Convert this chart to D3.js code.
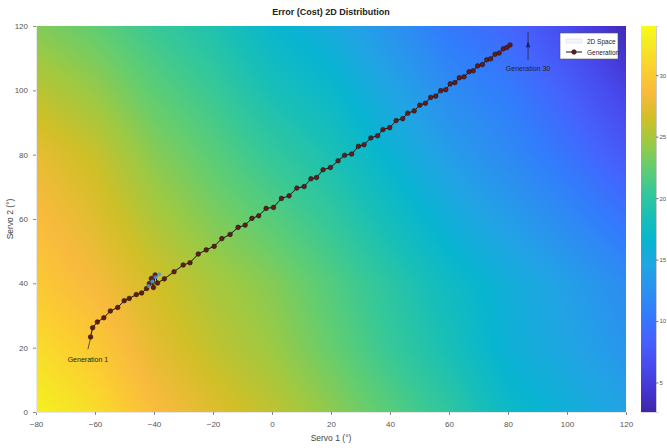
<!DOCTYPE html>
<html>
<head>
<meta charset="utf-8">
<script src="https://cdn.jsdelivr.net/npm/d3@7"></script>
<style>
  body { margin: 0; background: #fff; }
  text { font-family: "Liberation Sans", Arial, sans-serif; }
</style>
</head>
<body>
<div id="chart"></div>
<script>
// cost surface at every 20 deg (rows are Servo 2 = 0..120)
var gridX = [-80, -60, -40, -20, 0, 20, 40, 60, 80, 100, 120];
var gridY = [0, 20, 40, 60, 80, 100, 120];
var cost0   = [33.1, 31.6, 28.8, 27.2, 25.8, 24.0, 22.0, 20.0, 17.3, 15.8, 14.3];
var cost20  = [31.5, 29.9, 27.5, 25.9, 24.5, 22.6, 20.5, 18.5, 16.0, 14.6, 13.0];
var cost40  = [29.9, 28.4, 26.6, 25.0, 23.7, 21.8, 19.8, 17.6, 15.7, 14.0, 12.1];
var cost60  = [28.8, 27.3, 25.2, 23.5, 22.0, 20.3, 18.0, 15.7, 13.8, 11.9, 9.9];
var cost80  = [27.7, 26.2, 23.8, 22.1, 20.3, 18.7, 16.3, 13.8, 11.9, 9.9, 7.7];
var cost100 = [25.7, 24.3, 22.2, 20.6, 18.5, 17.0, 14.6, 12.1, 10.6, 8.3, 5.6];
var cost120 = [23.6, 22.4, 20.6, 19.0, 16.8, 15.2, 12.8, 10.3, 8.8, 6.3, 3.2];

// generation path (Servo 1, Servo 2)
var genX = [-61.5, -60.8, -59.2, -57.0, -54.8, -52.3, -50.1, -48.4, -46.0, -44.2, -42.5, -41.6,
  -40.9, -40.2, -39.6, -38.8, -36.5, -33.2, -30.1, -27.8, -25.0, -22.3, -19.6, -17.0, -14.2,
  -11.5, -9.1, -6.8, -4.5, -2.0, 0.5, 3.2, 5.8, 8.4, 10.9, 13.2, 15.1, 17.3, 19.8, 22.4, 24.6,
  27.0, 29.3, 31.2, 33.5, 35.8, 37.6, 39.9, 42.1, 44.3, 46.0, 48.2, 50.1, 52.0, 53.8, 55.5,
  57.2, 58.9, 60.4, 62.0, 63.5, 65.1, 66.8, 68.2, 69.7, 71.3, 72.8, 74.1, 75.6, 77.0, 78.4,
  79.6, 80.7];
var genY = [23.3, 26.2, 28.0, 29.3, 31.4, 32.5, 34.6, 35.3, 36.5, 37.0, 38.4, 39.9,
  41.5, 38.7, 42.6, 40.1, 41.4, 43.6, 45.7, 46.4, 49.1, 50.4, 51.5, 53.9, 55.2,
  57.4, 58.1, 60.2, 61.0, 63.3, 63.6, 66.4, 67.2, 69.6, 70.1, 72.5, 72.9, 75.3, 76.0, 78.1, 79.8,
  80.2, 82.6, 83.1, 85.2, 85.9, 87.8, 88.4, 90.6, 91.2, 92.9, 93.6, 95.4, 96.0, 97.8, 98.2,
  99.9, 100.2, 102.0, 102.4, 103.9, 104.2, 105.8, 106.1, 107.6, 108.0, 109.5, 109.8, 111.2, 111.6, 112.9,
  113.3, 114.1];
// light blue points near the first cluster
var blueX = [-41.8, -40.6, -39.4, -38.2];
var blueY = [39.2, 40.6, 41.9, 42.8];

var xTicks = [-80, -60, -40, -20, 0, 20, 40, 60, 80, 100, 120];
var yTicks = [0, 20, 40, 60, 80, 100, 120];
var cTicks = [5, 10, 15, 20, 25, 30];
var cDomain = [2.6, 34];

// parula
var parulaPos = [0, 4, 8, 12, 16, 20, 24, 28, 32, 36, 40, 44, 48, 52, 56, 60, 63];
var parulaCol = ["#3e26a8", "#4537d5", "#484df0", "#4563fd", "#327cfc", "#2b91ef", "#20a5e3",
  "#08b5d0", "#19bfb6", "#37c897", "#64cd6f", "#9dc943", "#d1bf27", "#f8ba3d", "#fccf30",
  "#f5e924", "#f9fb15"];

var costRows = [cost0, cost20, cost40, cost60, cost80, cost100, cost120];

var width = 667, height = 448;
var svg = d3.select("#chart").append("svg").attr("width", width).attr("height", height);

var x = d3.scaleLinear().domain([-80, 120]).range([36, 626]);
var y = d3.scaleLinear().domain([0, 120]).range([412, 26]);
var color = d3.scaleLinear()
  .domain(parulaPos.map(function (p) { return cDomain[0] + p / 63 * (cDomain[1] - cDomain[0]); }))
  .range(parulaCol)
  .interpolate(d3.interpolateRgb)
  .clamp(true);

function costAt(sx, sy) {
  var fx = (sx - gridX[0]) / 20, fy = (sy - gridY[0]) / 20;
  var i = Math.max(0, Math.min(gridX.length - 2, Math.floor(fx)));
  var j = Math.max(0, Math.min(gridY.length - 2, Math.floor(fy)));
  var tx = fx - i, ty = fy - j;
  var a = costRows[j][i], b = costRows[j][i + 1], c = costRows[j + 1][i], d = costRows[j + 1][i + 1];
  return (a * (1 - tx) + b * tx) * (1 - ty) + (c * (1 - tx) + d * tx) * ty;
}

// surface as an image
var pw = Math.round(x.range()[1] - x.range()[0]), ph = Math.round(y.range()[0] - y.range()[1]);
var cv = document.createElement("canvas");
cv.width = pw; cv.height = ph;
var ctx = cv.getContext("2d");
var img = ctx.createImageData(pw, ph);
for (var py = 0; py < ph; py++) {
  for (var px = 0; px < pw; px++) {
    var c = d3.rgb(color(costAt(x.invert(px + 36.5), y.invert(py + 26.5))));
    var k = (py * pw + px) * 4;
    img.data[k] = c.r; img.data[k + 1] = c.g; img.data[k + 2] = c.b; img.data[k + 3] = 255;
  }
}
ctx.putImageData(img, 0, 0);
svg.append("image")
  .attr("x", 36).attr("y", 26).attr("width", pw).attr("height", ph)
  .attr("preserveAspectRatio", "none")
  .attr("href", cv.toDataURL());

// axes
var xAxis = svg.append("g").attr("transform", "translate(0,412)")
  .call(d3.axisBottom(x).tickValues(xTicks).tickSize(3).tickPadding(6));
var yAxis = svg.append("g").attr("transform", "translate(36,0)")
  .call(d3.axisLeft(y).tickValues(yTicks).tickSize(3).tickPadding(5));
[xAxis, yAxis].forEach(function (g) {
  g.select(".domain").attr("stroke", "#e8e8e8");
  g.selectAll(".tick line").attr("stroke", "#888");
  g.selectAll(".tick text").attr("fill", "#555").style("font-size", "8px");
});

svg.append("text").attr("x", 331).attr("y", 15).attr("text-anchor", "middle")
  .style("font-size", "9px").style("font-weight", "bold").attr("fill", "#222")
  .text("Error (Cost) 2D Distribution");
svg.append("text").attr("x", 331).attr("y", 441).attr("text-anchor", "middle")
  .style("font-size", "8.5px").attr("fill", "#444").text("Servo 1 (°)");
svg.append("text").attr("transform", "translate(13,219) rotate(-90)").attr("text-anchor", "middle")
  .style("font-size", "8.5px").attr("fill", "#444").text("Servo 2 (°)");

// generation path
var line = d3.line().x(function (d) { return x(d[0]); }).y(function (d) { return y(d[1]); });
var pts = genX.map(function (v, i) { return [v, genY[i]]; });
svg.append("path").datum(pts).attr("d", line)
  .attr("fill", "none").attr("stroke", "#111").attr("stroke-width", 1);
svg.append("g").selectAll("circle").data(pts).enter().append("circle")
  .attr("cx", function (d) { return x(d[0]); })
  .attr("cy", function (d) { return y(d[1]); })
  .attr("r", 2.3)
  .attr("fill", "#6a1818").attr("stroke", "#1a1a1a").attr("stroke-width", 0.6);
svg.append("g").selectAll("circle").data(blueX).enter().append("circle")
  .attr("cx", function (d) { return x(d); })
  .attr("cy", function (d, i) { return y(blueY[i]); })
  .attr("r", 2).attr("fill", "#4a9ee0").attr("opacity", 0.8);

// annotations
svg.append("line").attr("x1", x(-62.4)).attr("y1", y(19.5)).attr("x2", x(-61.6)).attr("y2", y(22.6))
  .attr("stroke", "#222").attr("stroke-width", 0.7);
svg.append("text").attr("x", x(-62.4)).attr("y", y(16.5) + 3).attr("text-anchor", "middle")
  .style("font-size", "7px").attr("fill", "#222").text("Generation 1");
svg.append("line").attr("x1", x(86.8)).attr("y1", y(109.5)).attr("x2", x(86.8)).attr("y2", y(118.2))
  .attr("stroke", "#222").attr("stroke-width", 0.7);
svg.append("path")
  .attr("d", "M" + x(86.8) + "," + (y(114) - 4) + "l-2.2,6h4.4z")
  .attr("fill", "#15207a");
svg.append("text").attr("x", x(86.8)).attr("y", y(106.9) + 3).attr("text-anchor", "middle")
  .style("font-size", "7px").attr("fill", "#222").text("Generation 30");

// legend
var lg = svg.append("g").attr("transform", "translate(560,33)");
lg.append("rect").attr("width", 58).attr("height", 26).attr("fill", "#fff")
  .attr("stroke", "#555").attr("stroke-width", 0.6);
lg.append("rect").attr("x", 6).attr("y", 6).attr("width", 16).attr("height", 4)
  .attr("fill", "#f4f6fb").attr("stroke", "#ccd").attr("stroke-width", 0.4);
lg.append("text").attr("x", 27).attr("y", 10.5).style("font-size", "6.5px").attr("fill", "#222").text("2D Space");
lg.append("line").attr("x1", 6).attr("x2", 22).attr("y1", 19).attr("y2", 19)
  .attr("stroke", "#111").attr("stroke-width", 1);
lg.append("circle").attr("cx", 14).attr("cy", 19).attr("r", 2.3)
  .attr("fill", "#6a1818").attr("stroke", "#1a1a1a").attr("stroke-width", 0.6);
lg.append("text").attr("x", 27).attr("y", 21.5).style("font-size", "6.5px").attr("fill", "#222").text("Generation");

// colorbar
var cy = d3.scaleLinear().domain(cDomain).range([412, 26]);
svg.append("g").selectAll("rect").data(d3.range(26, 412)).enter().append("rect")
  .attr("x", 641).attr("y", function (d) { return d; }).attr("width", 15).attr("height", 1.2)
  .attr("fill", function (d) { return color(cy.invert(d + 0.5)); });
var cAxis = svg.append("g").attr("transform", "translate(656,0)")
  .call(d3.axisRight(cy).tickValues(cTicks).tickSize(2.5).tickPadding(1));
cAxis.select(".domain").attr("stroke", "#ccc");
cAxis.selectAll(".tick line").attr("stroke", "#777");
cAxis.selectAll(".tick text").attr("fill", "#555").style("font-size", "6px");
</script>
</body>
</html>
